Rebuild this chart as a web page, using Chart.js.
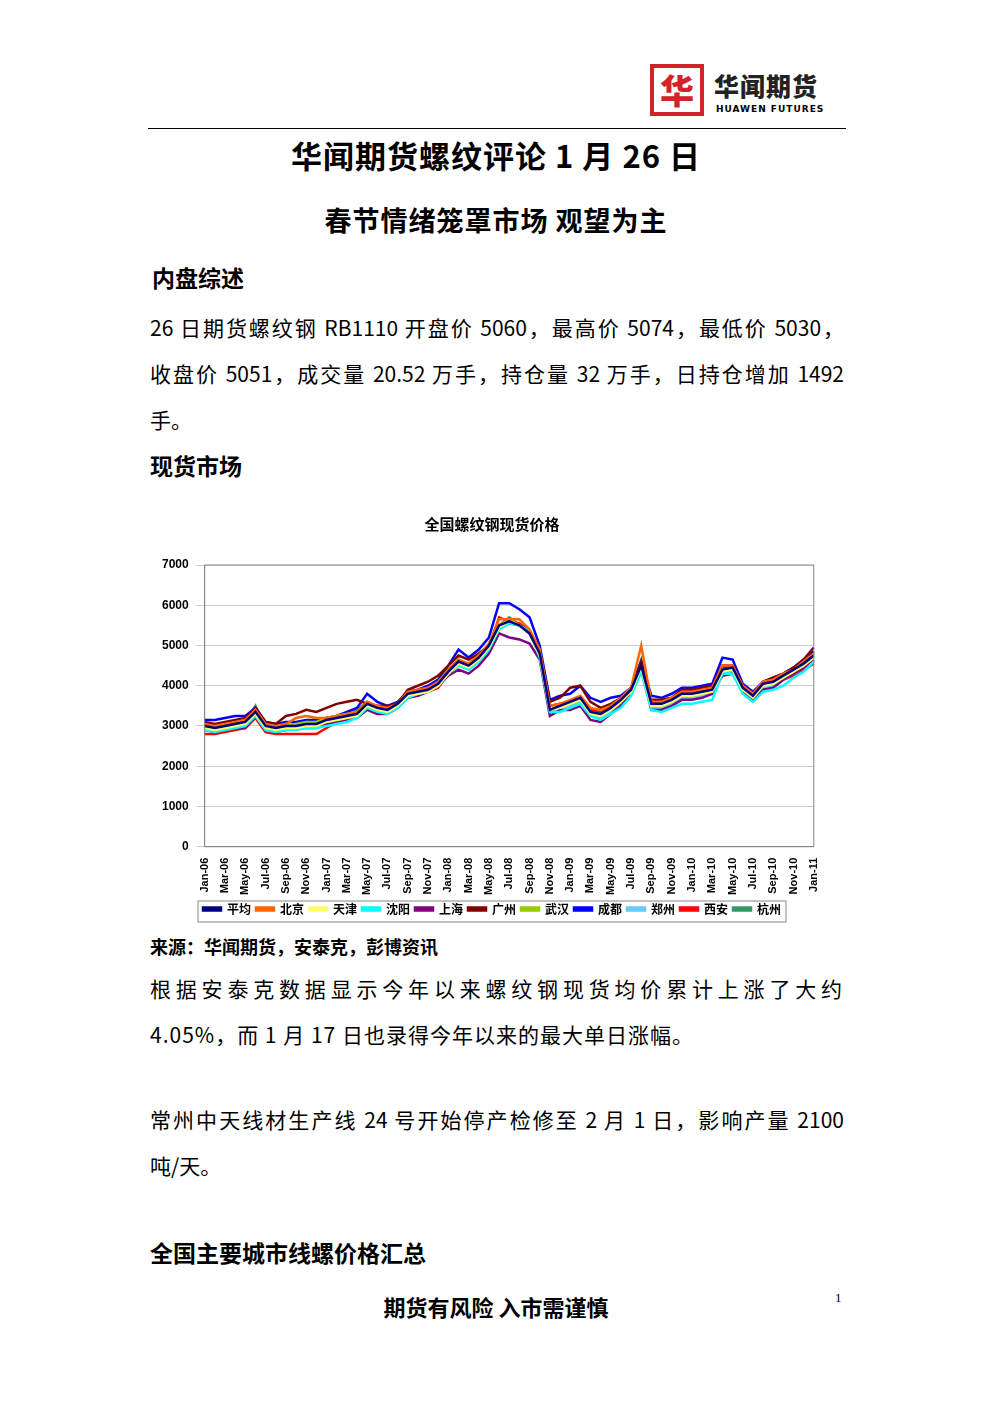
<!DOCTYPE html>
<html><head><meta charset="utf-8">
<script src="https://cdn.jsdelivr.net/npm/chart.js@4/dist/chart.umd.min.js"></script>
<style>
body{margin:0;width:992px;height:1403px;background:#fff;font-family:"Noto Sans CJK SC","Noto Sans",sans-serif;position:relative;color:#000}
.abs{position:absolute}
.ln{height:46px;line-height:46px;font-size:21px;white-space:nowrap}
.j{text-align:justify;text-align-last:justify}
</style></head><body>
<div class="abs" style="left:650px;top:64px;width:54px;height:52px;border:4px solid #d2232a;box-sizing:border-box;color:#d2232a;font-size:34px;font-weight:900;line-height:44px;text-align:center">华</div>
<div class="abs" style="left:714px;top:70px;font-size:25px;font-weight:900;letter-spacing:1px;color:#222;line-height:30px">华闻期货</div>
<div class="abs" style="left:716px;top:104px;font-size:9px;font-weight:700;letter-spacing:1px;font-family:'DejaVu Sans';line-height:10px">HUAWEN FUTURES</div>
<div class="abs" style="left:148px;top:128px;width:698px;border-top:1.5px solid #000"></div>
<div class="abs" style="left:0;width:992px;top:132px;text-align:center;font-size:31px;font-weight:700;letter-spacing:1px">华闻期货螺纹评论 1 月 26 日</div>
<div class="abs" style="left:0;width:992px;top:200px;text-align:center;font-size:27px;font-weight:700;letter-spacing:1px">春节情绪笼罩市场 观望为主</div>
<div class="abs" style="left:152px;top:260px;font-size:23px;font-weight:700">内盘综述</div>
<div class="abs" style="left:150px;top:304px;width:694px">
<div class="ln j">26 日期货螺纹钢 RB1110 开盘价 5060，最高价 5074，最低价 5030，</div>
<div class="ln j">收盘价 5051，成交量 20.52 万手，持仓量 32 万手，日持仓增加 1492</div>
<div class="ln">手。</div></div>
<div class="abs" style="left:150px;top:448px;font-size:23px;font-weight:700">现货市场</div>
<div class="abs" style="left:150px;top:505px;width:680px;height:420px"><canvas id="c"></canvas></div>
<div class="abs" style="left:150px;top:933px;font-size:18px;font-weight:700">来源：华闻期货，安泰克，彭博资讯</div>
<div class="abs" style="left:150px;top:965px;width:692px">
<div class="ln j">根据安泰克数据显示今年以来螺纹钢现货均价累计上涨了大约</div>
<div class="ln" style="letter-spacing:1px">4.05%，而 1 月 17 日也录得今年以来的最大单日涨幅。</div></div>
<div class="abs" style="left:150px;top:1096px;width:694px">
<div class="ln j">常州中天线材生产线 24 号开始停产检修至 2 月 1 日，影响产量 2100</div>
<div class="ln">吨/天。</div></div>
<div class="abs" style="left:150px;top:1235px;font-size:23px;font-weight:700">全国主要城市线螺价格汇总</div>
<div class="abs" style="left:0;width:992px;top:1290px;text-align:center;font-size:22px;font-weight:700">期货有风险 入市需谨慎</div>
<div class="abs" style="left:835px;top:1290px;font-size:13px;font-family:'Liberation Serif'">1</div>
<script>
const months=["Jan","Feb","Mar","Apr","May","Jun","Jul","Aug","Sep","Oct","Nov","Dec"];
const labels=[];for(let y=6;y<=11;y++)for(let m=0;m<12;m++){if(y===11&&m>0)break;labels.push(months[m]+"-"+String(y).padStart(2,"0"));}
const cityNames=["平均","北京","天津","沈阳","上海","广州","武汉","成都","郑州","西安","杭州"];
const avg=[3000,2950,3000,3050,3100,3350,3000,2950,3000,3000,3050,3050,3150,3200,3250,3300,3550,3450,3400,3550,3800,3850,3900,4050,4350,4600,4500,4700,5000,5500,5600,5500,5300,4800,3400,3500,3600,3700,3350,3300,3450,3650,3900,4500,3550,3550,3650,3800,3800,3850,3900,4400,4450,3950,3750,4050,4100,4250,4400,4550,4750];
const beijing=[3050,3000,3050,3100,3150,3400,3050,3000,3050,3200,3250,3200,3200,3250,3300,3350,3600,3500,3450,3550,3850,3900,3950,4100,4400,4650,4550,4750,5050,5650,5650,5650,5400,4900,3500,3550,3650,3750,3450,3400,3500,3700,3950,5000,3600,3600,3700,3850,3850,3900,3950,4500,4500,4000,3800,4100,4150,4300,4400,4600,4800];
const tianjin=[2950,2900,2950,3000,3050,3300,2950,2900,2950,2950,3000,3000,3100,3150,3200,3250,3500,3400,3350,3500,3750,3800,3850,4000,4300,4550,4450,4650,4950,5450,5600,5500,5300,4750,3400,3450,3550,3650,3300,3250,3400,3600,3850,4450,3500,3500,3600,3750,3750,3800,3850,4350,4400,3900,3700,4000,4050,4200,4350,4500,4700];
const shenyang=[2900,2850,2900,2950,3000,3250,2900,2850,2900,2900,2950,2950,3000,3050,3100,3200,3450,3350,3300,3450,3700,3800,3850,4000,4300,4500,4400,4600,4900,5400,5550,5500,5350,4700,3350,3350,3450,3550,3250,3150,3300,3450,3750,4350,3400,3350,3450,3550,3550,3600,3650,4300,4300,3800,3600,3850,3900,4000,4200,4350,4600];
const shanghai=[2900,2850,2900,2950,2950,3250,2900,2850,2900,2950,2950,2950,3050,3100,3150,3200,3400,3300,3300,3450,3700,3750,3850,4000,4250,4400,4300,4500,4800,5300,5200,5150,5050,4650,3250,3400,3400,3500,3150,3100,3300,3500,3800,4400,3400,3400,3500,3650,3650,3700,3800,4250,4300,3850,3650,3900,3950,4150,4300,4450,4650];
const guangzhou=[3100,3050,3100,3150,3200,3450,3100,3050,3250,3300,3400,3350,3450,3550,3600,3650,3550,3500,3500,3550,3900,4000,4100,4250,4500,4750,4650,4800,5000,5450,5550,5500,5350,4850,3600,3700,3950,4000,3600,3450,3550,3700,3900,4600,3650,3650,3700,3900,3900,3950,4000,4500,4500,4000,3800,4100,4200,4300,4450,4650,4950];
const wuhan=[2950,2900,3000,3050,3100,3350,3000,2950,3000,3050,3100,3100,3200,3250,3300,3350,3550,3450,3400,3550,3800,3850,3900,4050,4350,4600,4500,4700,5000,5500,5650,5500,5300,4800,3400,3500,3550,3650,3350,3300,3450,3600,3850,4500,3550,3500,3600,3750,3750,3800,3850,4350,4400,3950,3750,4050,4100,4200,4350,4500,4700];
const chengdu=[3150,3150,3200,3250,3250,3450,3100,3050,3100,3100,3150,3150,3200,3250,3350,3450,3800,3600,3500,3600,3850,3900,4000,4150,4500,4900,4700,4900,5200,6050,6050,5900,5700,5000,3650,3750,3800,4000,3700,3600,3700,3750,3950,4600,3750,3700,3800,3950,3950,4000,4050,4700,4650,4050,3850,4100,4200,4300,4450,4650,4850];
const zhengzhou=[2950,2900,2950,3000,3050,3300,2950,2900,2950,2950,3000,3000,3050,3100,3200,3250,3500,3400,3350,3500,3750,3800,3850,4000,4300,4550,4400,4600,4900,5450,5550,5500,5350,4750,3350,3400,3500,3600,3300,3200,3350,3550,3800,4450,3450,3450,3550,3700,3700,3750,3800,4350,4350,3900,3700,3950,4000,4150,4300,4450,4650];
const xian=[2800,2800,2850,2900,2950,3200,2850,2800,2800,2800,2800,2800,2950,3100,3200,3250,3500,3400,3350,3500,3750,3800,3850,3950,4300,4550,4450,4650,4950,5700,5600,5550,5350,4800,3500,3550,3600,3650,3400,3350,3450,3600,3850,4450,3500,3550,3650,3700,3800,3850,3900,4450,4400,3900,3700,3950,4100,4150,4250,4400,4550];
const hangzhou=[2950,2900,3000,3050,3100,3500,3000,2950,3000,3050,3100,3100,3200,3250,3300,3400,3600,3450,3400,3550,3800,3850,3900,4050,4350,4600,4500,4700,5000,5500,5700,5500,5300,4800,3400,3500,3600,3700,3350,3300,3450,3650,3900,4650,3550,3550,3650,3800,3800,3850,3900,4450,4450,3950,3750,4100,4100,4250,4450,4550,4800];
const yTicks=[0,1000,2000,3000,4000,5000,6000,7000];
const series=[avg,beijing,tianjin,shenyang,shanghai,guangzhou,wuhan,chengdu,zhengzhou,xian,hangzhou];
const colors=["#000080","#ff6600","#ffff66","#00ffff","#800080","#800000","#99cc00","#0000ff","#66ccff","#ff0000","#339966"];
const boxPlugin={id:"box",afterDraw(ch){const l=ch.legend,c=ch.ctx;c.save();c.strokeStyle="#888";c.lineWidth=1;
const hb=l.legendHitBoxes;let x0=Math.min(...hb.map(b=>b.left)),x1=Math.max(...hb.map(b=>b.left+b.width));
c.strokeRect(x0-5,l.top+3,x1-x0+10,l.height-6);const a=ch.chartArea;c.strokeRect(a.left,a.top,a.right-a.left,a.bottom-a.top);c.restore();}};
new Chart(document.getElementById("c"),{type:"line",
data:{labels:labels,datasets:series.map((d,i)=>({label:cityNames[i],data:d,borderColor:colors[i],backgroundColor:colors[i],borderWidth:2.5,pointRadius:0,tension:0}))},
options:{responsive:true,maintainAspectRatio:false,animation:false,
layout:{padding:{left:4,right:0,top:0,bottom:0}},
plugins:{title:{display:true,text:"全国螺纹钢现货价格",font:{size:15,weight:"bold",family:"Noto Sans CJK SC"},color:"#000",padding:{top:10,bottom:32}},
legend:{position:"bottom",labels:{boxWidth:18,boxHeight:3,padding:5,font:{size:12,weight:"bold",family:"Noto Sans CJK SC"},color:"#000"}},tooltip:{enabled:false}},
scales:{x:{grid:{display:false},border:{color:"#888"},ticks:{autoSkip:false,maxRotation:90,minRotation:90,font:{size:11,weight:"bold",family:"Liberation Sans"},color:"#000",callback:(v,i)=>i%2===0?labels[i]:""}},
y:{min:0,max:7000,afterBuildTicks:ax=>{ax.ticks=yTicks.map(v=>({value:v}));},grid:{color:"#ccc"},border:{color:"#888"},ticks:{font:{size:12,weight:"bold",family:"Liberation Sans"},color:"#000",padding:8,callback:v=>String(v)}}}},
plugins:[boxPlugin]});
</script>
</body></html>
